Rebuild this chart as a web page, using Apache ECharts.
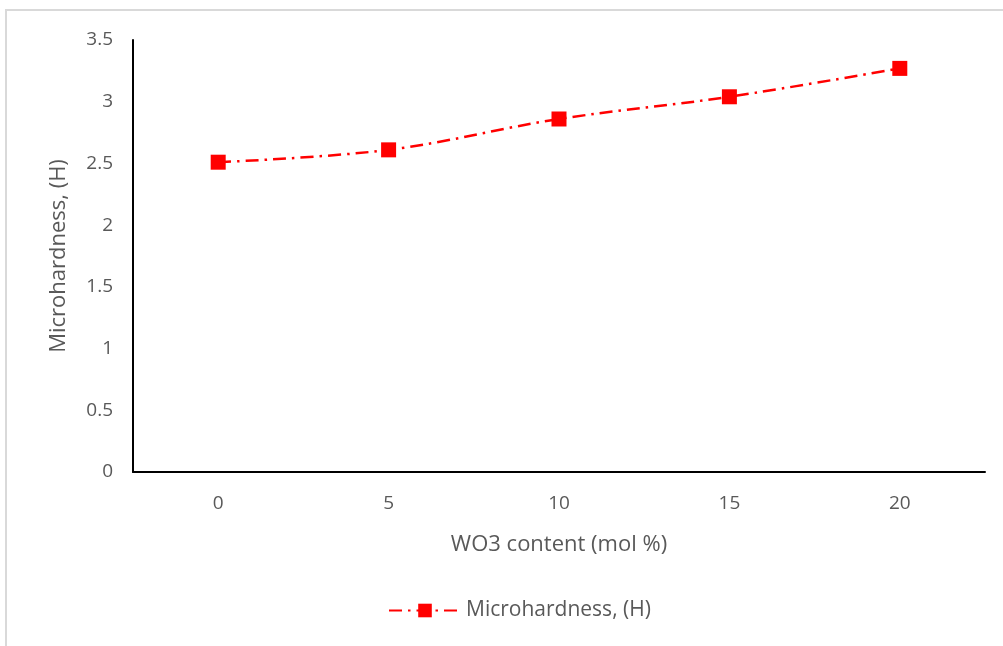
<!DOCTYPE html>
<html>
<head>
<meta charset="utf-8">
<script src="https://cdn.jsdelivr.net/npm/echarts@6/dist/echarts.min.js"></script>
<style>html,body{margin:0;padding:0;background:#fff}#c{width:1003px;height:646px}</style>
</head>
<body>
<div id="c"></div>
<script>
var categories = ['0', '5', '10', '15', '20'];
var microhardness = [2.51, 2.61, 2.86, 3.04, 3.27];
var seriesName = 'Microhardness, (H)';
var xTitle = 'WO3 content (mol %)';
var yTitle = 'Microhardness, (H)';

var chart = echarts.init(document.getElementById('c'));
var font = '"Open Sans", Lato, sans-serif';
chart.setOption({
  animation: false,
  backgroundColor: '#ffffff',
  graphic: [{
    type: 'rect', shape: {x: 6, y: 10, width: 1010, height: 650},
    style: {fill: 'none', stroke: '#d9d9d9', lineWidth: 2}, silent: true, z: -1
  }],
  grid: {left: 133, top: 40, right: 18, bottom: 174, containLabel: false},
  xAxis: {
    type: 'category', data: categories, boundaryGap: true,
    name: xTitle, nameLocation: 'middle', nameGap: 62,
    nameTextStyle: {fontFamily: font, fontSize: 22, color: '#595959'},
    axisLine: {lineStyle: {color: '#000', width: 2}},
    axisTick: {show: false},
    axisLabel: {fontFamily: font, fontSize: 19, color: '#595959', margin: 22}
  },
  yAxis: {
    type: 'value', min: 0, max: 3.5, interval: 0.5,
    name: yTitle, nameLocation: 'middle', nameGap: 63,
    nameTextStyle: {fontFamily: font, fontSize: 22, color: '#595959'},
    axisLine: {show: true, lineStyle: {color: '#000', width: 2}},
    axisTick: {show: false},
    splitLine: {show: false},
    axisLabel: {fontFamily: font, fontSize: 19, color: '#595959', margin: 20}
  },
  legend: {
    bottom: 20, left: 383, itemWidth: 72, itemHeight: 17, itemGap: 6,
    textStyle: {fontFamily: font, fontSize: 21, color: '#595959'},
    data: [seriesName]
  },
  series: [{
    name: seriesName, type: 'line', data: microhardness, smooth: 0.35,
    symbol: 'rect', symbolSize: 15,
    itemStyle: {color: '#ff0000'},
    lineStyle: {color: '#ff0000', width: 2.5, type: [13, 6, 2.5, 6]}
  }]
});
</script>
</body>
</html>
